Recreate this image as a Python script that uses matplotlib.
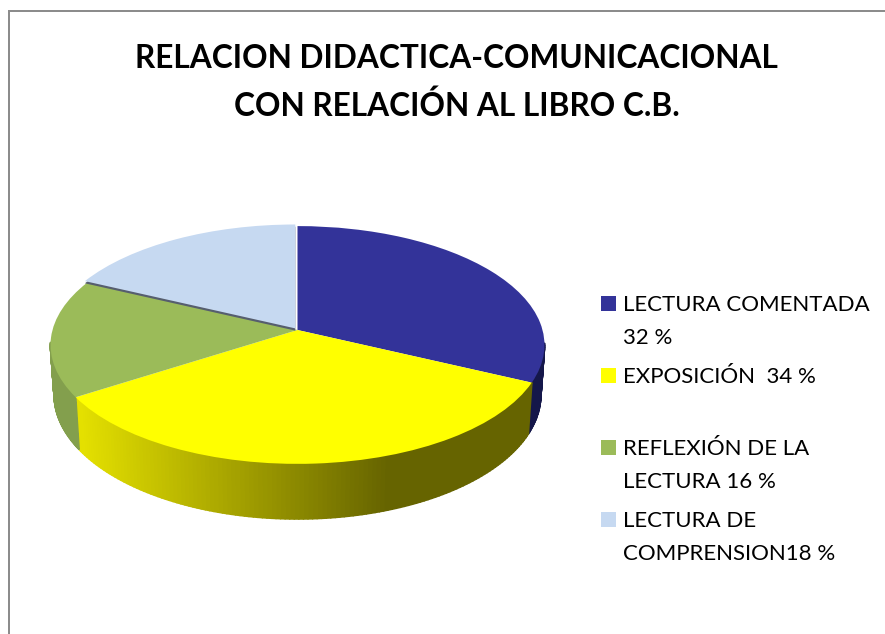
import numpy as np
import matplotlib
matplotlib.use("Agg")
import matplotlib.pyplot as plt
from matplotlib.collections import PolyCollection
from matplotlib.patches import Rectangle
from matplotlib.transforms import Transform, Affine2D

# ---- data ----
title_lines = ["RELACION DIDACTICA-COMUNICACIONAL", "CON RELACIÓN AL LIBRO C.B."]
categories = ["LECTURA COMENTADA\n32 %", "EXPOSICIÓN  34 %",
              "REFLEXIÓN DE LA\nLECTURA 16 %", "LECTURA DE\nCOMPRENSION18 %"]
shares = [32, 34, 16, 18]
colors = ["#333399", "#FFFF00", "#9BBB59", "#C6D9F1"]
wall_colors = ["#15174A", None, "#839F4D", "#8C9AAD"]

W, H = 885, 634
CX, CY, A, B, K = 297.5, 330.0, 245.0, 117.0, 0.126
SX, SY, DEPTH = 0.985, 1.045, 49.0


class Disc(Transform):
    """Tilted-disc projection of the unit pie into pixel-like data units."""
    input_dims = output_dims = 2
    is_separable = False
    has_inverse = False

    def transform_non_affine(self, values):
        p = np.asarray(values, float)
        w = 1 + K * p[:, 1]
        return np.column_stack([CX + A * p[:, 0] / w, CY - B * p[:, 1] / w])


disc = Disc()


def bottom(x, y):
    return CX + (x - CX) * SX, CY + (y - CY) * SY + DEPTH


fig = plt.figure(figsize=(W / 100, H / 100), dpi=100, facecolor="white")
ax = fig.add_axes([0, 0, 1, 1])

wedges, _ = ax.pie(shares, colors=colors, startangle=90, counterclock=False)
ax.set_aspect("auto")
ax.set_xlim(0, W)
ax.set_ylim(H, 0)
ax.axis("off")

# side wall, built from the shares
polys, fc = [], []
edges = np.cumsum([0] + shares) / sum(shares)
for i in range(len(shares)):
    th = np.radians(90 - 360 * np.linspace(edges[i], edges[i + 1], 130))
    pts = disc.transform_non_affine(np.column_stack([np.cos(th), np.sin(th)]))
    vis = np.sin(th)
    for j in range(len(th) - 1):
        if vis[j] > -0.1 or vis[j + 1] > -0.1:
            continue
        x0, y0 = pts[j]
        x1, y1 = pts[j + 1]
        bx0, by0 = bottom(x0, y0)
        bx1, by1 = bottom(x1, y1)
        polys.append([(x0, y0), (x1, y1), (bx1, by1), (bx0, by0)])
        if wall_colors[i] is None:
            t = np.clip(((x0 + x1) / 2 - 80) / (387 - 80), 0, 1)
            fc.append(((228 + t * (102 - 228)) / 255,
                       (224 + t * (100 - 224)) / 255, 0))
        else:
            fc.append(matplotlib.colors.to_rgb(wall_colors[i]))
ax.add_collection(PolyCollection(polys, facecolors=fc, edgecolors=fc,
                                 linewidths=1.3, zorder=1))

# top faces
for i, w in enumerate(wedges):
    w.set_edgecolor("none")
    w.set_zorder(3)
    w.set_transform(disc + ax.transData)
wedges[3].set_transform(disc + Affine2D().translate(-2.2, -1.6) + ax.transData)
wedges[3].set_zorder(4)
# dark cut edge under the lifted slice
sliver, _ = ax.pie([shares[3], sum(shares) - shares[3]], colors=["#565E6E", "none"],
                   startangle=90 + 360 * shares[3] / sum(shares), counterclock=False)
ax.set_aspect("auto")
ax.set_xlim(0, W)
ax.set_ylim(H, 0)
ax.axis("off")
sliver[0].set_edgecolor("none")
sliver[0].set_zorder(3.5)
sliver[0].set_transform(disc + Affine2D().translate(-2.2, 0.6) + ax.transData)
sliver[1].set_visible(False)

# frame
ax.add_patch(Rectangle((7.5, 10), 2.6, H, fc="#8C8C8C", ec="none", zorder=5))
ax.add_patch(Rectangle((7.5, 10), W, 1.7, fc="#8C8C8C", ec="none", zorder=5))

# title
for line, y in zip(title_lines, [68, 116]):
    ax.text(456.5, y, line, ha="center", va="baseline", family="Lato",
            fontweight="bold", fontsize=22.8, color="black", zorder=6)

# legend
first_baselines = [311, 383, 455, 527]
for cat, col, base in zip(categories, colors, first_baselines):
    ax.add_patch(Rectangle((601, base - 15), 15, 15, fc=col, ec="none", zorder=6))
    for n, line in enumerate(cat.split("\n")):
        ax.text(623, base + n * 32.5, line, ha="left", va="baseline", family="Lato",
                fontsize=16.0, color="black", zorder=6)

fig.savefig("out.png", dpi=100, facecolor="white")
